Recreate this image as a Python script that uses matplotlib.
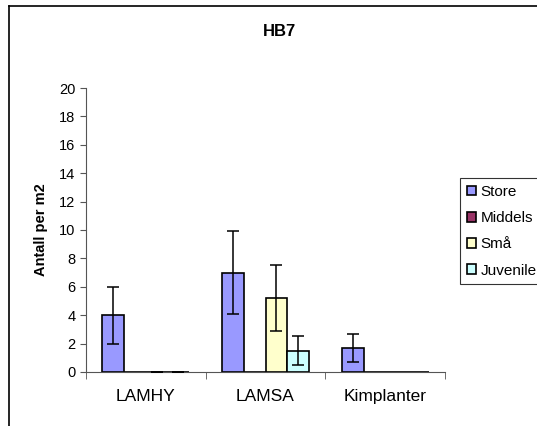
import matplotlib.pyplot as plt
import numpy as np

plt.rcParams['font.family'] = ['Liberation Sans', 'DejaVu Sans']

# data
categories = ["LAMHY", "LAMSA", "Kimplanter"]
series = ["Store", "Middels", "Små", "Juvenile"]
store = [4.0, 7.0, 1.7]
store_err = [2.0, 2.95, 1.0]
middels = [0.0, 0.0, 0.0]
middels_err = [np.nan, np.nan, np.nan]
sma = [0.0, 5.2, 0.0]
sma_err = [0.0, 2.3, np.nan]
juvenile = [0.0, 1.5, 0.0]
juvenile_err = [0.0, 1.0, np.nan]
yticks = [0, 2, 4, 6, 8, 10, 12, 14, 16, 18, 20]

colors = ["#9999FF", "#993366", "#FFFFCC", "#CCFFFF"]
values = [store, middels, sma, juvenile]
errors = [store_err, middels_err, sma_err, juvenile_err]

fig = plt.figure(figsize=(5.37, 4.26), dpi=100)
ax = fig.add_axes([0.160, 0.1268, 0.669, 0.6666])

x = np.arange(len(categories))
w = 1 / 5.5
for i, (vals, errs, c, name) in enumerate(zip(values, errors, colors, series)):
    pos = x - 2 * w + (i + 0.5) * w
    ax.bar(pos, vals, width=w, color=c, edgecolor="black", linewidth=1.2, label=name, zorder=2)
    errs = np.array(errs)
    ok = ~np.isnan(errs)
    if ok.any():
        ax.errorbar(pos[ok], np.array(vals)[ok], yerr=errs[ok], fmt="none",
                    ecolor="black", elinewidth=1.1, capsize=4, capthick=1.1, zorder=3)

ax.set_xlim(-0.5, 2.5)
ax.set_ylim(0, 20)
ax.set_yticks(yticks)
ax.tick_params(axis="y", labelsize=10.5, length=4, direction="out", color="#555555")
ax.set_xticks(x)
ax.set_xticklabels(categories, fontsize=12.5)
ax.tick_params(axis="x", length=0, pad=12)
ax.set_xticks([-0.5, 0.5, 1.5, 2.5], minor=True)
ax.tick_params(axis="x", which="minor", length=5, color="#555555")
for s in ["top", "right"]:
    ax.spines[s].set_visible(False)
for s in ["left", "bottom"]:
    ax.spines[s].set_color("#555555")

ax.set_ylabel("Antall per m2", fontsize=10.5, fontweight="bold", labelpad=8)
fig.text(0.52, 0.925, "HB7", ha="center", va="center", fontsize=12, fontweight="bold")

leg = ax.legend(loc="upper left", bbox_to_anchor=(460 / 537, 1 - 178 / 426),
                bbox_transform=fig.transFigure, fontsize=11, frameon=True,
                fancybox=False, edgecolor="black", handlelength=0.6, handleheight=0.6,
                handletextpad=0.3, labelspacing=0.8, borderpad=0.45, borderaxespad=0)
leg.get_frame().set_linewidth(0.8)

# outer chart border (clipped at right/bottom like the original)
fig.add_artist(plt.Line2D([9 / 537, 9 / 537], [0, 1 - 6 / 426], color="black", lw=1.2, transform=fig.transFigure))
fig.add_artist(plt.Line2D([9 / 537, 1], [1 - 6 / 426, 1 - 6 / 426], color="black", lw=1.2, transform=fig.transFigure))

fig.savefig("out.png", dpi=100)
